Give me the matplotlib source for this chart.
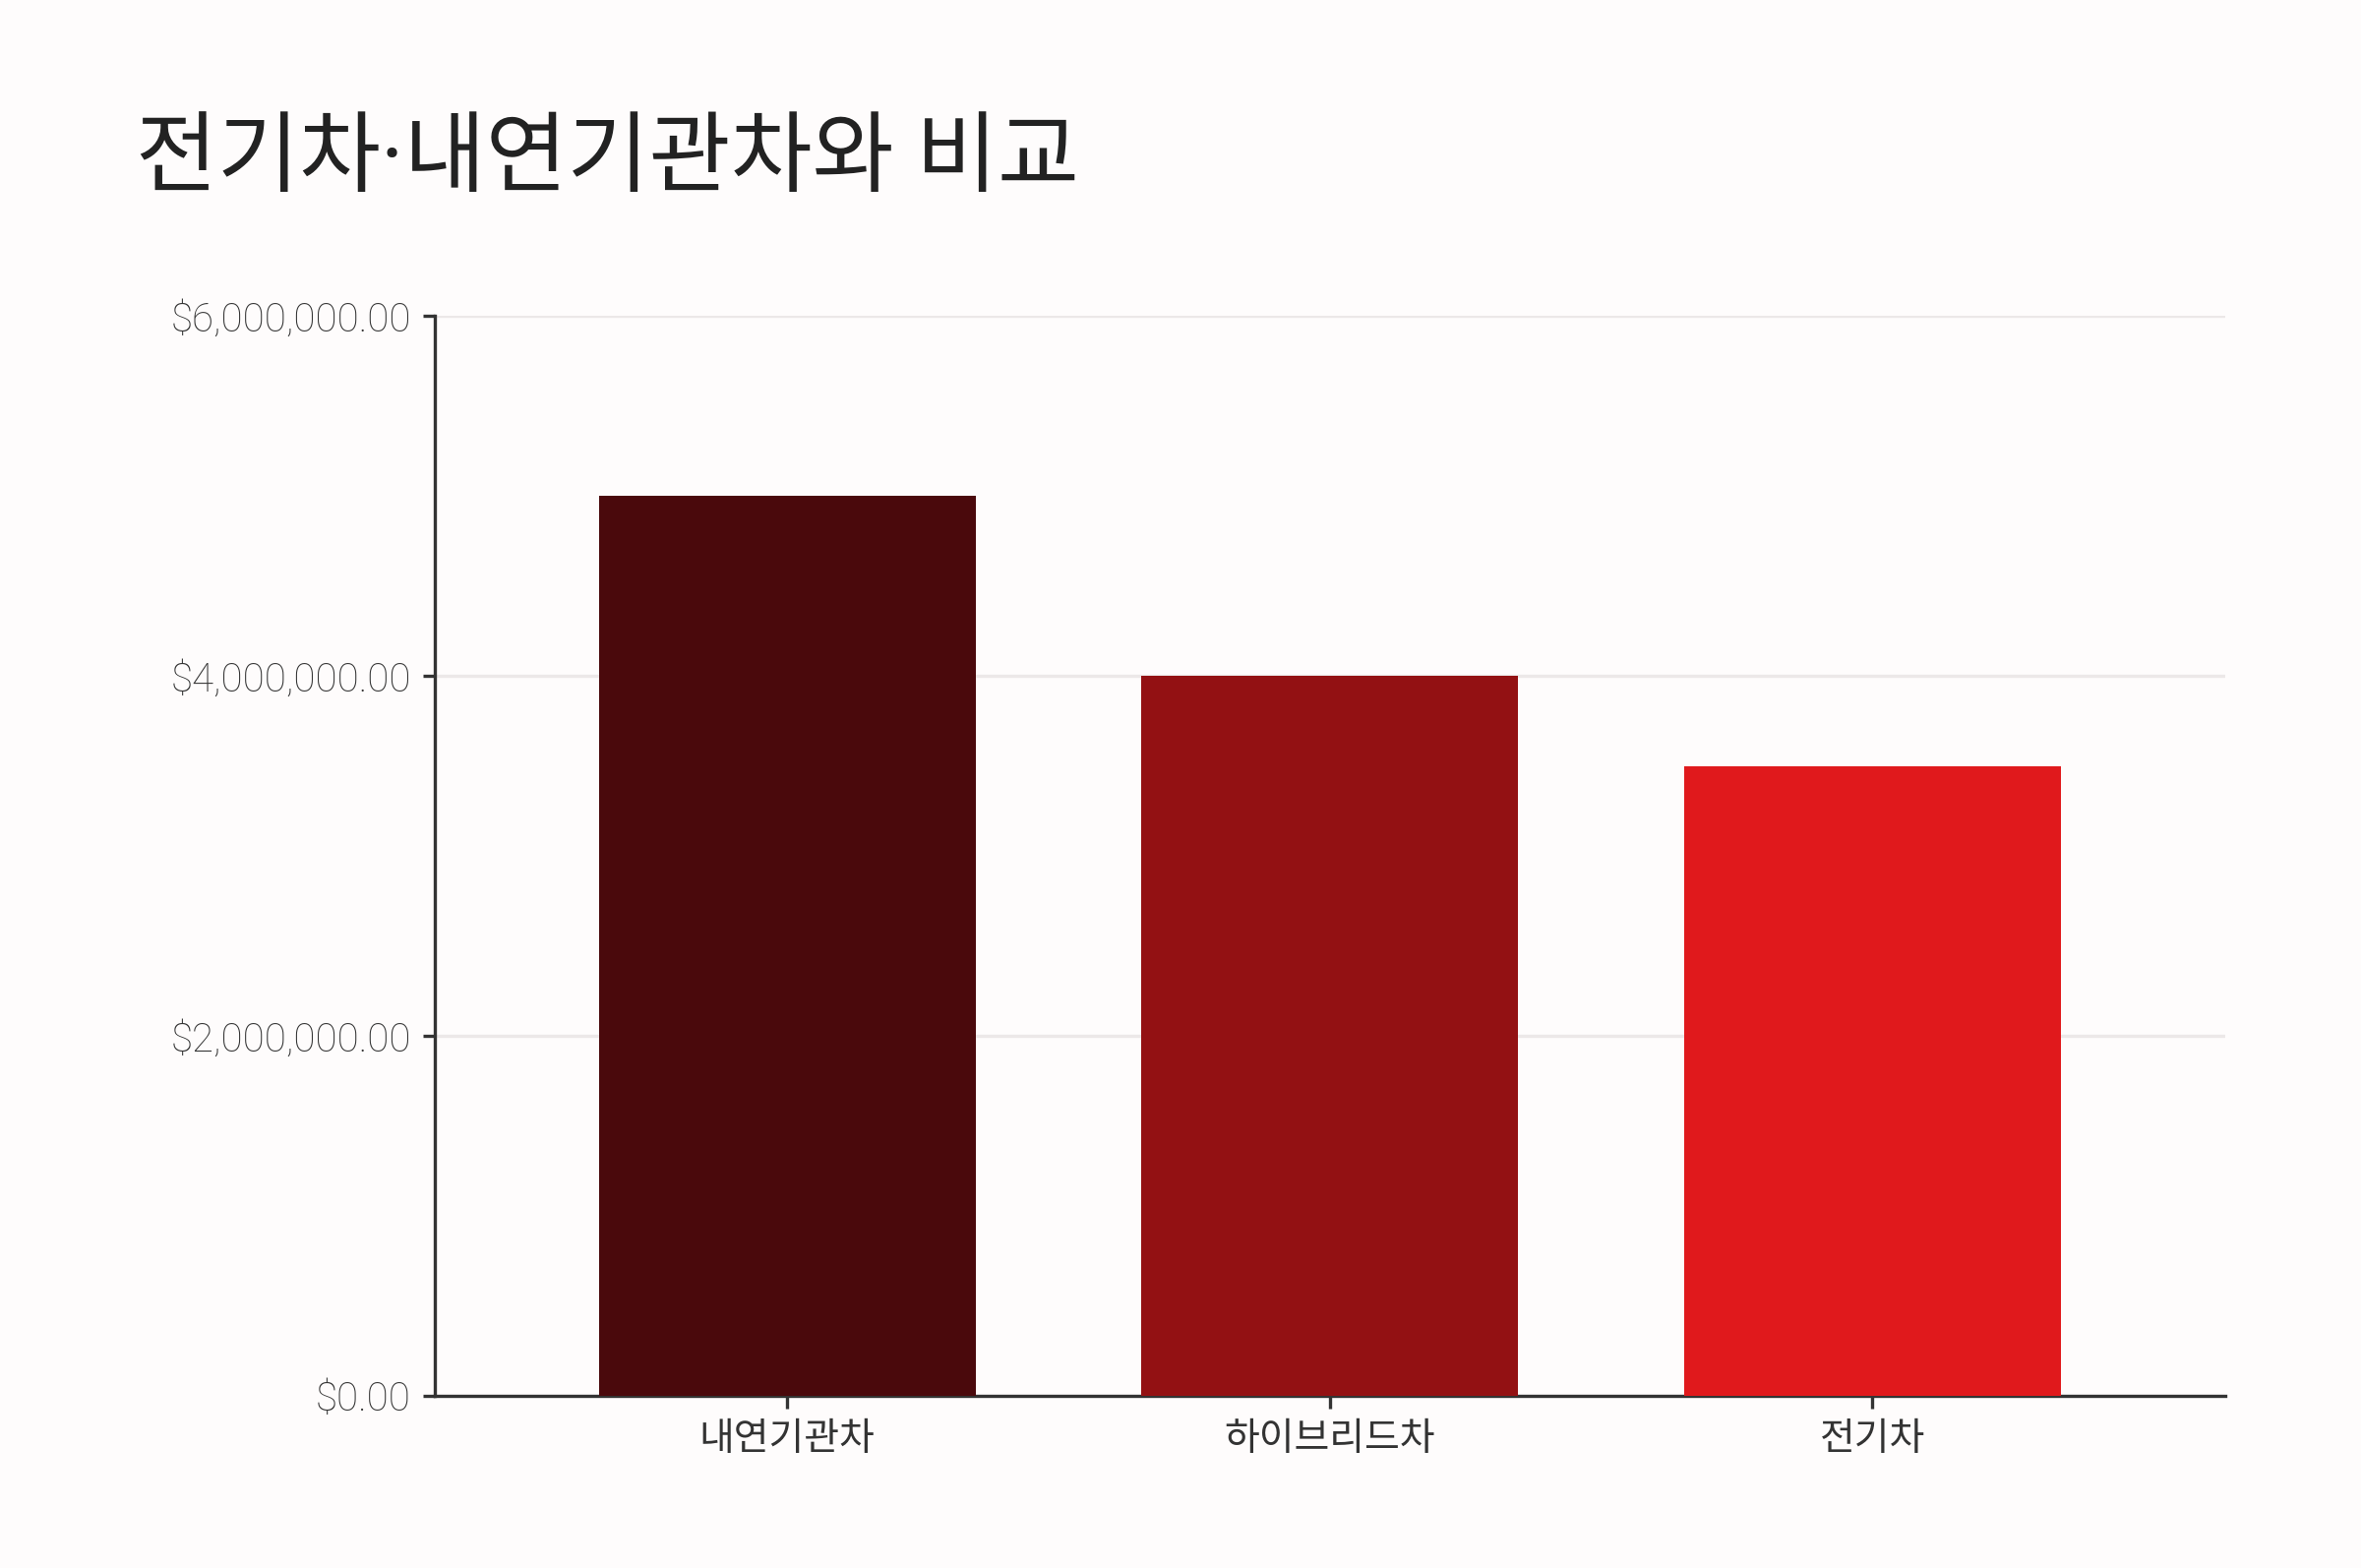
import matplotlib.pyplot as plt
from matplotlib.ticker import FuncFormatter

categories = ['내연기관차', '하이브리드차', '전기차']
values = [5000000, 4000000, 3500000]
colors = ['#4a090c', '#931113', '#e0191c']
yticks = [0, 2000000, 4000000, 6000000]

plt.rcParams['font.family'] = ['Noto Sans CJK KR', 'DejaVu Sans']

fig = plt.figure(figsize=(12, 7.97), dpi=200, facecolor='#fefcfc')
ax = fig.add_axes([0.184, 0.1098, 0.7585, 0.6888])
ax.set_facecolor('#fefcfc')

ax.bar(range(len(categories)), values, width=0.694, color=colors, zorder=3)

ax.set_xlim(-0.65, 2.65)
ax.set_ylim(0, 6000000)
ax.set_yticks(yticks)
ax.yaxis.set_major_formatter(FuncFormatter(lambda v, p: f'${v:,.2f}'))
ax.set_xticks(range(len(categories)))
ax.set_xticklabels(categories)

ax.grid(axis='y', color='#ece8e8', linewidth=1.2, zorder=0)
for s in ['top', 'right']:
    ax.spines[s].set_visible(False)
for s in ['left', 'bottom']:
    ax.spines[s].set_color('#333333')
    ax.spines[s].set_linewidth(1.2)

ax.tick_params(axis='both', length=4.5, width=1.2, color='#333333')
ax.tick_params(axis='x', labelsize=14, labelcolor='#333333', pad=4)
for lbl in ax.get_yticklabels():
    lbl.set_family(['Roboto', 'DejaVu Sans'])
    lbl.set_fontweight('light')
    lbl.set_fontsize(14.5)
    lbl.set_color('#333333')
ax.tick_params(axis='y', pad=4)

fig.text(0.0575, 0.898, '전기차·내연기관차와 비교', fontsize=32.5, color='#222222',
         family=['Roboto', 'Noto Sans CJK KR'], ha='left', va='center')

fig.savefig('out.png', dpi=200, facecolor=fig.get_facecolor())
